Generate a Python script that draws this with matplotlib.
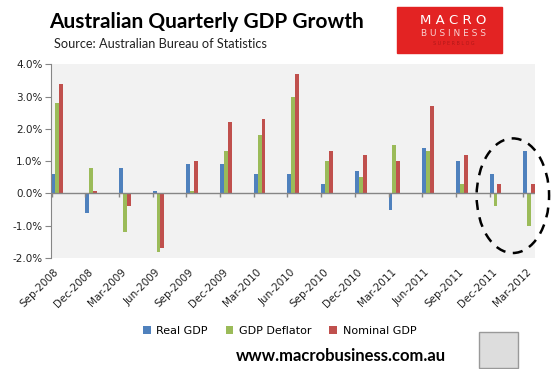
import matplotlib.pyplot as plt
from matplotlib.patches import Ellipse, Rectangle
import numpy as np

quarters = ["Sep-2008", "Dec-2008", "Mar-2009", "Jun-2009", "Sep-2009", "Dec-2009",
            "Mar-2010", "Jun-2010", "Sep-2010", "Dec-2010", "Mar-2011", "Jun-2011",
            "Sep-2011", "Dec-2011", "Mar-2012"]
real_gdp = [0.6, -0.6, 0.8, 0.08, 0.9, 0.9, 0.6, 0.6, 0.3, 0.7, -0.5, 1.4, 1.0, 0.6, 1.3]
gdp_deflator = [2.8, 0.8, -1.2, -1.8, 0.08, 1.3, 1.8, 3.0, 1.0, 0.5, 1.5, 1.3, 0.3, -0.4, -1.0]
nominal_gdp = [3.4, 0.08, -0.4, -1.7, 1.0, 2.2, 2.3, 3.7, 1.3, 1.2, 1.0, 2.7, 1.2, 0.3, 0.3]
yticks = [-2, -1, 0, 1, 2, 3, 4]

blue = "#4F81BD"
green = "#9BBB59"
red = "#C0504D"

fig = plt.figure(figsize=(5.57, 3.69), dpi=100)
ax = fig.add_axes([0.091, 0.3008, 0.8697, 0.5249])
ax.set_facecolor("#F2F2F2")

x = np.arange(len(quarters))
w = 0.116
ax.bar(x, real_gdp, w, align="edge", color=blue, label="Real GDP")
ax.bar(x + w, gdp_deflator, w, align="edge", color=green, label="GDP Deflator")
ax.bar(x + 2 * w, nominal_gdp, w, align="edge", color=red, label="Nominal GDP")

ax.set_xlim(-0.025, 14.35)
ax.set_ylim(-2, 4)

# zero line with category tick marks
ax.axhline(0, color="#868686", lw=1)
ax.vlines(x, -0.12, 0, color="#868686", lw=1)

ax.set_yticks(yticks)
ax.set_yticklabels(["%.1f%%" % v for v in yticks], fontsize=7.5, color="#222222")
ax.tick_params(axis="y", direction="out", length=4, color="#868686", pad=2)

ax.set_xticks(x + 1.5 * w)
ax.set_xticklabels(quarters, rotation=45, ha="right", va="center",
                   rotation_mode="anchor", fontsize=7.5, color="#222222")
ax.tick_params(axis="x", length=0, pad=9)

for s in ["top", "right", "bottom"]:
    ax.spines[s].set_visible(False)
ax.spines["left"].set_color("#868686")

# dashed ellipse around last two quarters
ell = Ellipse((13.69, -0.07), 2.15, 3.55, fill=False, ls=(0, (4, 3)),
              lw=1.8, color="black", clip_on=False)
ax.add_patch(ell)

leg = fig.legend(loc="center", bbox_to_anchor=(0.502, 0.103), ncol=3, frameon=False,
                 fontsize=8, handlelength=0.7, handleheight=0.7, handletextpad=0.5,
                 columnspacing=1.6)

fig.text(0.088, 0.941, "Australian Quarterly GDP Growth", fontsize=15,
         fontweight="bold", family="Lato", va="center")
fig.text(0.097, 0.88, "Source: Australian Bureau of Statistics", fontsize=9.2,
         family="Lato", va="center", color="#222222")

# MacroBusiness logo box
fig.patches.append(Rectangle((397 / 557, 1 - 53 / 369), 105 / 557, 46 / 369,
                             transform=fig.transFigure, color="#E32323"))
fig.text(0.814, 0.944, "M A C R O", color="white", fontsize=9.5, ha="center",
         va="center", family="DejaVu Sans")
fig.text(0.814, 0.908, "B U S I N E S S", color="#F8D0D0", fontsize=6.5, ha="center",
         va="center", family="DejaVu Sans")
fig.text(0.814, 0.883, "S U P E R B L O G", color="#B01818", fontsize=3.5,
         ha="center", va="center")

fig.text(0.612, 0.035, "www.macrobusiness.com.au", fontsize=12, fontweight="bold",
         ha="center", va="center", family="Lato")

# fox picture frame
fig.patches.append(Rectangle((479 / 557, 1 - 368 / 369), 39 / 557, 36 / 369,
                             transform=fig.transFigure, facecolor="#DDDDDD",
                             edgecolor="#999999", lw=1))

fig.savefig("out.png", dpi=100)
